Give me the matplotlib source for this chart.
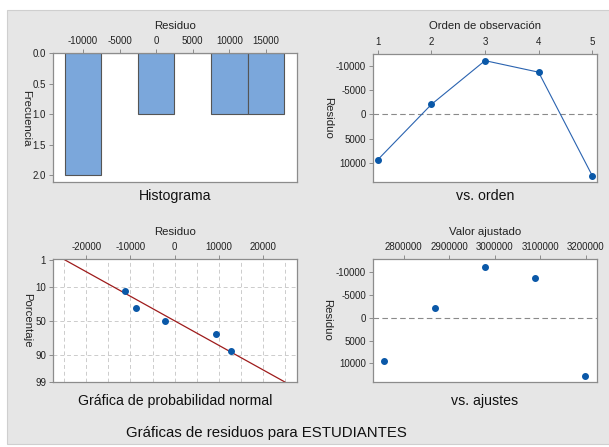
import numpy as np
import matplotlib
matplotlib.use("Agg")
import matplotlib.pyplot as plt
from matplotlib.patches import Rectangle
from statistics import NormalDist

# residuals and fitted values for the five observations
order = [1, 2, 3, 4, 5]
residuals = [9400, -2100, -11200, -8800, 12700]
fitted = [2757000, 2868000, 2979000, 3089000, 3199000]

hist_ticks = [-10000, -5000, 0, 5000, 10000, 15000]
freq_ticks = [0.0, 0.5, 1.0, 1.5, 2.0]
res_ticks = [-10000, -5000, 0, 5000, 10000]
prob_xticks = [-20000, -10000, 0, 10000, 20000]
pct_ticks = [1, 10, 50, 90, 99]
fit_ticks = [2800000, 2900000, 3000000, 3100000, 3200000]

W, H = 609, 447
plt.rcParams['font.family'] = ['Liberation Sans', 'DejaVu Sans']
plt.rcParams['axes.unicode_minus'] = False
fig = plt.figure(figsize=(W / 100, H / 100), dpi=100)
fig.patch.set_facecolor('white')


def box(x0, y0, x1, y1):
    return [x0 / W, 1 - y1 / H, (x1 - x0) / W, (y1 - y0) / H]


def ftext(x, y, s, **kw):
    fig.text(x / W, 1 - y / H, s, ha='center', va='center', **kw)


# grey backdrop
fig.patches.append(Rectangle((7 / W, 3 / H), 1, 1 - 13 / H, transform=fig.transFigure,
                             facecolor='#e6e6e6', edgecolor='#cfcfcf', lw=0.8, zorder=-10))

BLUE = '#0a58a8'
FRAME = '#8c8c8c'


def style(ax):
    ax.set_facecolor('white')
    for s in ax.spines.values():
        s.set_color(FRAME)
        s.set_linewidth(0.9)
    ax.xaxis.tick_top()
    ax.xaxis.set_label_position('top')
    ax.tick_params(direction='out', length=3, width=0.7, color=FRAME,
                   labelsize=7, labelcolor='#222222', pad=2)


# histogram
ax1 = fig.add_axes(box(53, 53, 297, 182))
style(ax1)
edges = np.arange(-12500, 17501, 5000)
counts, _ = np.histogram(residuals, bins=edges)
ax1.bar(edges[:-1] + 2500, counts, width=5000, color='#7ba7db',
        edgecolor='#555555', linewidth=0.8)
ax1.set_xlim(-14100, 19250)
ax1.set_ylim(2.11, 0)
ax1.set_xticks(hist_ticks)
ax1.set_yticks(freq_ticks)
ax1.set_yticklabels([f'{v:.1f}' for v in freq_ticks])

# residuals vs order
ax2 = fig.add_axes(box(373, 54, 597, 182))
style(ax2)
ax2.axhline(0, color='#8a8a8a', lw=0.8, ls=(0, (5, 3)))
ax2.plot(order, residuals, color='#2a63b0', lw=0.8, marker='o', ms=4,
         mfc=BLUE, mec=BLUE)
ax2.set_xlim(0.91, 5.09)
ax2.set_ylim(14040, -12580)
ax2.set_xticks(order)
ax2.set_yticks(res_ticks)

# normal probability plot
ax3 = fig.add_axes(box(53, 259, 297, 382))
style(ax3)
nd = NormalDist()
n = len(residuals)
srt = np.sort(residuals)
z_pts = [nd.inv_cdf((i - 0.3) / (n + 0.4)) for i in range(1, n + 1)]
mu, sd = np.mean(residuals), np.std(residuals, ddof=1)
z_pct = [nd.inv_cdf(p / 100) for p in pct_ticks]
for xv in np.arange(-25000, 25001, 5000):
    ax3.axvline(xv, color='#cccccc', lw=0.7, ls=(0, (4, 3)), zorder=0)
for zv in z_pct[1:-1]:
    ax3.axhline(zv, color='#cccccc', lw=0.7, ls=(0, (4, 3)), zorder=0)
zl = np.array([z_pct[0], z_pct[-1]])
ax3.plot(mu + zl * sd, zl, color='#9e1b1b', lw=0.9, zorder=2)
ax3.plot(srt, z_pts, 'o', color=BLUE, ms=4, zorder=3)
ax3.set_xlim(-27500, 27600)
ax3.set_ylim(z_pct[-1], z_pct[0] - 0.03)
ax3.set_xticks(prob_xticks)
ax3.set_yticks(z_pct)
ax3.set_yticklabels([str(p) for p in pct_ticks])

# residuals vs fits
ax4 = fig.add_axes(box(373, 259, 597, 382))
style(ax4)
ax4.axhline(0, color='#8a8a8a', lw=0.8, ls=(0, (5, 3)))
ax4.plot(fitted, residuals, 'o', color=BLUE, ms=4)
ax4.set_xlim(2732800, 3224800)
ax4.set_ylim(14130, -12950)
ax4.set_xticks(fit_ticks)
ax4.set_xticklabels([str(v) for v in fit_ticks])
ax4.set_yticks(res_ticks)

# axis labels
lab = dict(fontsize=8.2, color='#222222')
ftext(175, 26, 'Residuo', **lab)
ftext(485, 26, 'Orden de observación', **lab)
ftext(175, 232, 'Residuo', **lab)
ftext(485, 232, 'Valor ajustado', **lab)
ftext(26, 118, 'Frecuencia', rotation=270, **lab)
ftext(328, 118, 'Residuo', rotation=270, **lab)
ftext(27, 320, 'Porcentaje', rotation=270, **lab)
ftext(327, 320, 'Residuo', rotation=270, **lab)

# panel titles
sub = dict(fontsize=10.2, color='#111111')
ftext(175, 196, 'Histograma', **sub)
ftext(485, 196, 'vs. orden', **sub)
ftext(175, 401, 'Gráfica de probabilidad normal', **sub)
ftext(485, 401, 'vs. ajustes', **sub)

ftext(266, 433, 'Gráficas de residuos para ESTUDIANTES', fontsize=10.8, color='#111111')

fig.savefig('out.png', dpi=100)
